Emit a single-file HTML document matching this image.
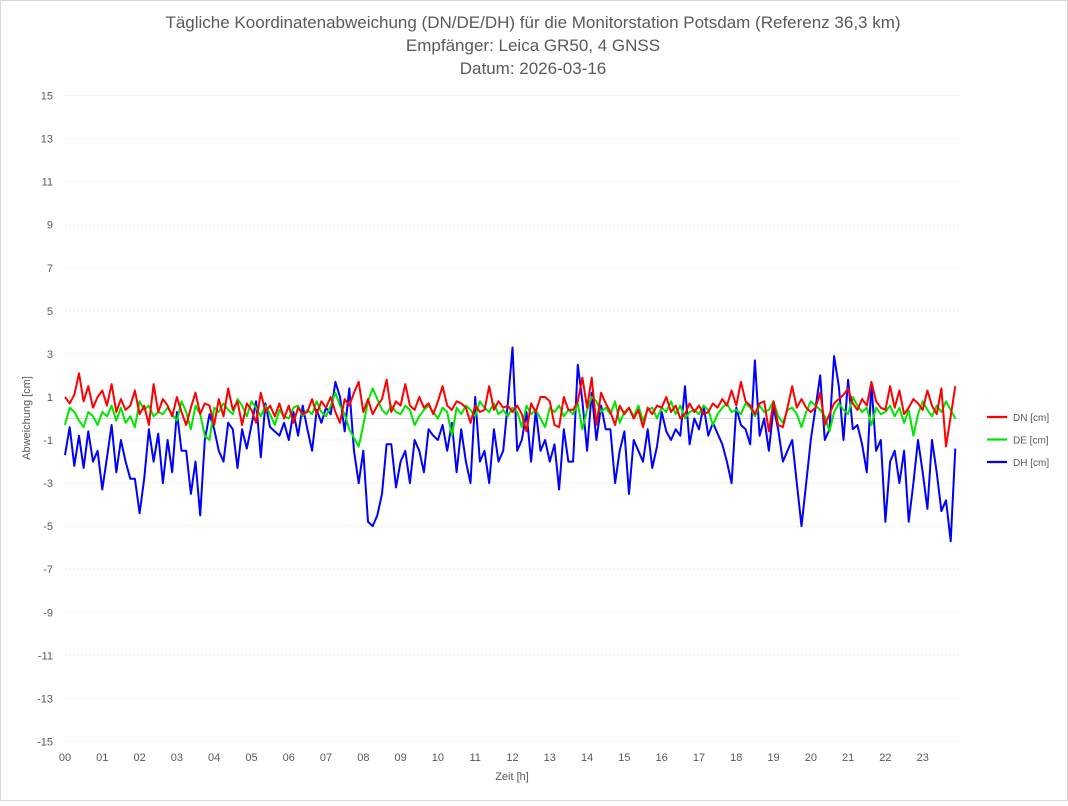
<!DOCTYPE html>
<html><head><meta charset="utf-8"><style>
body{margin:0;background:#fff;font-family:"Liberation Sans",sans-serif}
svg text{font-family:"Liberation Sans",sans-serif;fill:#595959}
</style></head><body>
<svg id="c" width="1068" height="801" viewBox="0 0 1068 801" xmlns="http://www.w3.org/2000/svg">
<rect x="0.5" y="0.5" width="1067" height="800" fill="#fff" stroke="#d9d9d9"/>
<text x="533" y="28" font-size="17" text-anchor="middle">Tägliche Koordinatenabweichung (DN/DE/DH) für die Monitorstation Potsdam (Referenz 36,3 km)</text>
<text x="533" y="51" font-size="17" text-anchor="middle">Empfänger: Leica GR50, 4 GNSS</text>
<text x="533" y="74" font-size="17" text-anchor="middle">Datum: 2026-03-16</text>
<text x="30" y="418" font-size="11" text-anchor="middle" transform="rotate(-90 30 418)">Abweichung [cm]</text>
<text x="512" y="780" font-size="11" text-anchor="middle">Zeit [h]</text>
<g id="grid"></g><g id="series"></g><g id="legend"></g>
</svg>
<script>
const yTicks=[15,13,11,9,7,5,3,1,-1,-3,-5,-7,-9,-11,-13,-15];
const xTicks=["00","01","02","03","04","05","06","07","08","09","10","11","12","13","14","15","16","17","18","19","20","21","22","23"];
const dn=[1.0,0.7,1.1,2.1,0.8,1.5,0.5,1.0,1.3,0.6,1.6,0.3,0.9,0.4,0.6,1.3,0.2,0.6,-0.3,1.6,0.3,0.9,0.6,0.1,1.0,0.3,-0.3,0.5,1.2,0.2,0.7,0.6,-0.3,0.9,0.1,1.4,0.4,0.8,-0.3,0.7,0.4,-0.2,1.2,0.3,0.6,0.1,0.7,0.0,0.6,-0.2,0.5,0.2,0.3,0.9,0.2,0.8,0.5,1.0,0.3,-0.2,0.9,0.6,1.2,1.7,0.3,0.9,0.2,0.6,0.9,1.8,0.3,0.8,0.6,1.6,0.6,0.4,1.0,0.5,0.7,0.2,0.8,1.5,0.6,0.4,0.8,0.7,0.5,-0.2,0.6,0.3,0.4,1.5,0.4,0.8,0.5,0.6,0.3,0.6,0.2,-0.6,0.7,0.3,1.0,1.0,0.8,-0.3,-0.4,1.0,0.4,0.4,0.8,1.9,0.5,1.9,-0.3,1.2,0.7,0.3,-0.3,0.6,0.2,0.5,0.0,0.4,-0.4,0.5,0.2,0.6,0.5,1.0,0.3,0.6,0.0,0.2,0.7,0.3,0.6,0.2,0.3,0.7,0.5,0.9,0.6,1.3,0.6,1.7,0.8,0.6,0.2,0.7,0.8,-0.6,0.8,-0.3,-0.4,0.5,1.5,0.5,0.9,0.5,0.3,0.5,1.2,-0.3,0.2,0.7,0.9,1.1,1.4,0.7,0.4,0.9,0.6,1.7,0.8,0.5,0.4,1.5,0.5,1.3,0.2,0.5,0.9,0.7,0.4,1.3,0.6,0.2,1.4,-1.3,0.1,1.5];
const de=[-0.3,0.5,0.3,-0.1,-0.4,0.3,0.1,-0.3,0.3,0.1,0.6,-0.1,0.5,-0.2,0.1,-0.4,0.8,0.4,0.6,0.1,0.3,0.2,0.5,0.2,-0.1,0.8,0.3,-0.5,0.6,0.2,-0.8,-1.0,0.5,0.3,0.7,0.4,0.2,0.9,0.6,0.1,0.8,0.5,0.1,0.6,0.2,-0.3,0.4,0.1,0.0,0.5,0.6,0.1,0.4,0.2,0.8,0.3,0.1,0.6,1.2,0.6,0.2,-0.5,-0.9,-1.3,-0.3,0.8,1.4,0.9,0.4,0.2,0.6,0.3,0.2,0.6,0.4,-0.3,0.1,0.4,0.6,0.3,0.0,0.5,0.3,-0.8,0.5,0.2,0.6,0.4,0.1,0.8,0.5,0.3,0.7,0.2,0.4,0.1,0.5,0.3,-0.4,0.6,0.2,0.4,0.0,-0.4,0.5,0.3,0.6,0.1,0.4,0.2,0.7,-0.5,0.4,1.0,0.8,0.3,0.5,0.2,0.8,-0.2,0.3,0.5,0.1,0.6,-0.1,0.4,0.5,0.0,0.5,0.3,0.8,0.2,0.6,0.0,0.3,0.4,0.2,0.6,0.4,-0.3,0.2,0.5,0.7,0.3,0.4,0.2,0.7,0.5,0.1,0.6,0.3,0.4,0.8,0.1,-0.2,0.4,0.5,0.2,-0.4,0.3,0.8,0.6,0.4,0.1,-0.6,0.3,0.7,0.4,0.2,1.0,0.6,0.3,0.5,-0.3,0.5,0.2,0.3,0.6,0.1,0.5,-0.2,0.4,-0.8,0.2,0.8,0.4,0.1,0.6,0.3,0.8,0.4,0.0];
const dh=[-1.7,-0.4,-2.2,-0.8,-2.3,-0.6,-2.0,-1.5,-3.3,-1.8,-0.3,-2.5,-1.0,-2.0,-2.8,-2.8,-4.4,-2.8,-0.5,-2.0,-0.7,-3.0,-1.0,-2.5,0.3,-1.5,-1.5,-3.5,-2.0,-4.5,-1.0,0.2,-0.5,-1.5,-2.0,-0.2,-0.5,-2.3,-0.5,-1.4,-0.3,0.8,-1.8,0.7,-0.4,-0.6,-0.8,-0.2,-1.0,0.3,-0.8,0.6,-0.5,-1.5,0.4,-0.2,0.5,0.2,1.7,1.0,-0.6,1.4,-1.5,-3.0,-1.5,-4.8,-5.0,-4.5,-3.5,-1.2,-1.2,-3.2,-2.0,-1.5,-3.0,-1.0,-1.5,-2.5,-0.5,-0.8,-1.0,-0.3,-1.5,-0.2,-2.5,-0.5,-2.0,-3.0,1.0,-2.0,-1.5,-3.0,-0.5,-2.0,-1.5,0.7,3.3,-1.5,-1.0,0.3,-2.0,0.4,-1.5,-1.0,-2.0,-1.2,-3.3,-0.5,-2.0,-2.0,2.5,0.8,-1.5,1.2,-1.0,0.6,-0.5,-0.5,-3.0,-1.5,-0.6,-3.5,-1.0,-1.5,-2.0,-0.5,-2.3,-1.3,0.3,-0.6,-1.0,-0.5,-0.8,1.5,-1.2,0.0,-0.5,0.6,-0.8,-0.2,-0.7,-1.2,-2.0,-3.0,0.5,-0.3,-0.5,-1.2,2.7,-0.8,0.0,-1.5,0.5,-0.5,-2.0,-1.5,-1.0,-3.0,-5.0,-3.0,-1.0,0.5,2.0,-1.0,-0.5,2.9,1.5,-1.0,1.8,-0.5,-0.3,-1.2,-2.5,1.6,-1.5,-1.0,-4.8,-2.0,-1.5,-3.0,-1.5,-4.8,-3.0,-1.0,-2.5,-4.2,-1.0,-2.5,-4.3,-3.8,-5.7,-1.4];
const NS="http://www.w3.org/2000/svg";
const X0=65,X1=960,Y0=418.5,PY=21.53,stepH=0.125;
const xs=h=>X0+h*(X1-X0)/24, ys=v=>Y0-v*PY;
const grid=document.getElementById('grid'),ser=document.getElementById('series'),leg=document.getElementById('legend');
function mk(t,a,p){const e=document.createElementNS(NS,t);for(const k in a)e.setAttribute(k,a[k]);p.appendChild(e);return e;}
yTicks.forEach(v=>{
 const l=mk('line',{x1:X0,x2:X1,y1:ys(v),y2:ys(v),stroke:'#d9d9d9','stroke-dasharray':'1,3'},grid);
 
 
 const t=mk('text',{x:53,y:ys(v)+4,'font-size':11,'text-anchor':'end'},grid);t.textContent=v;
 
 
});
const z=mk('line',{x1:X0,x2:X1,y1:Y0,y2:Y0,stroke:'#d9d9d9'},grid);


xTicks.forEach((s,i)=>{
 const t=mk('text',{x:xs(i),y:761,'font-size':11,'text-anchor':'middle'},grid);t.textContent=s;
 
 
});
const series=[["DN [cm]",dn,"#ff0000","dn-line"],["DE [cm]",de,"#00e600","de-line"],["DH [cm]",dh,"#0000ff","dh-line"]];
series.slice().reverse().forEach(([n,d,c,nm])=>{
 const p=mk('polyline',{points:d.map((v,i)=>xs(i*stepH).toFixed(1)+','+ys(v).toFixed(1)).join(' '),fill:'none',stroke:c,'stroke-width':2,'stroke-linejoin':'round'},ser);
 
 
});
series.forEach(([n,d,c,nm],i)=>{
 const y=417+i*22.5;
 const l=mk('line',{x1:987,x2:1007,y1:y,y2:y,stroke:c,'stroke-width':2.2},leg);
 
 
 const t=mk('text',{x:1013,y:y+4,'font-size':10},leg);t.textContent=n;
 
 
});
</script>
</body></html>
